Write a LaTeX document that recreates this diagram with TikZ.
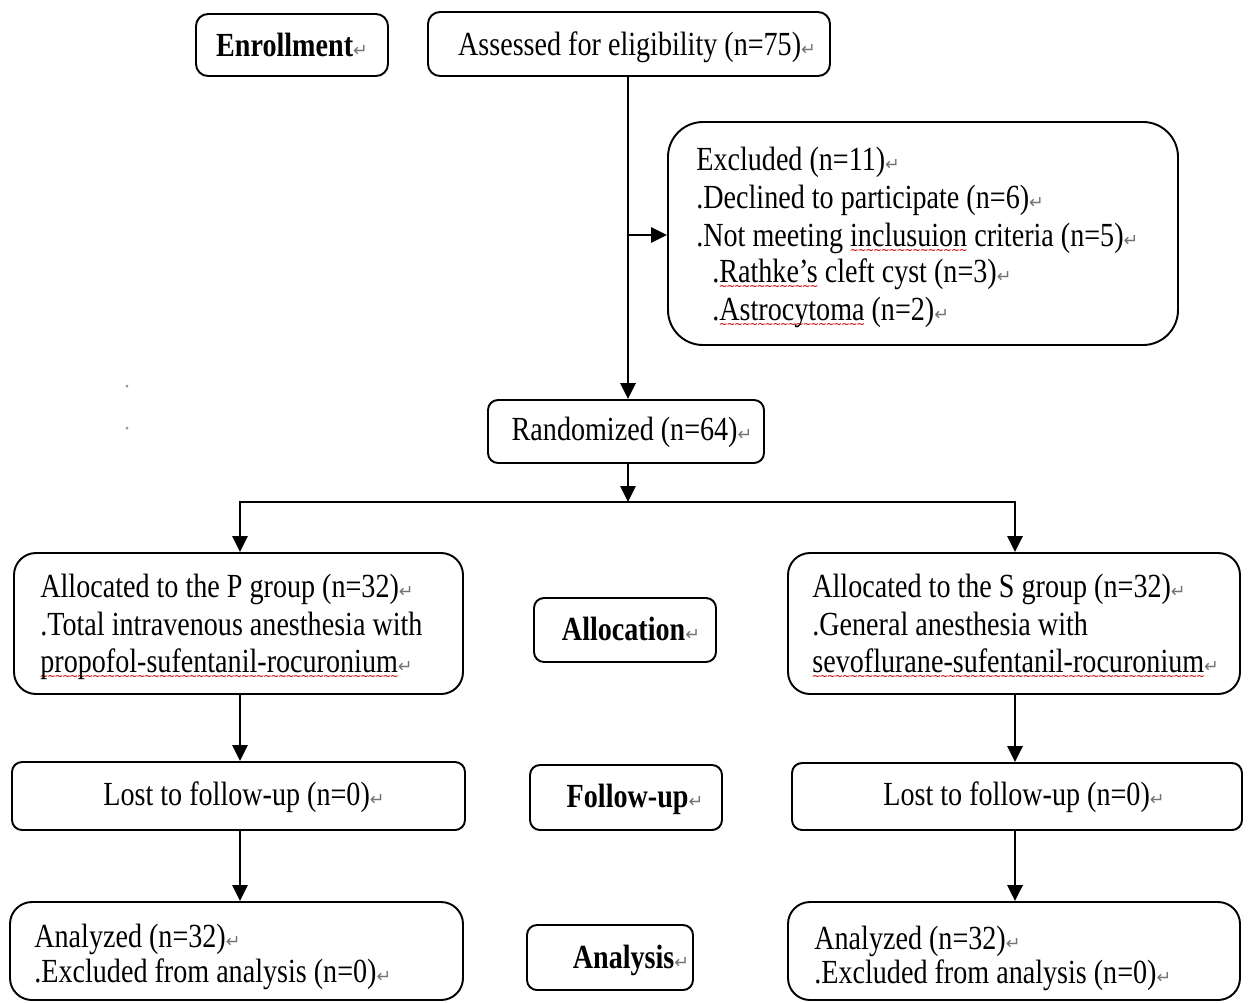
\documentclass[tikz,border=0pt]{standalone}
\usepackage{fontspec}
\setmainfont{Liberation Serif}
\newfontfamily\dvfont{DejaVu Sans}
\usetikzlibrary{arrows.meta,fit}
\newcommand\rt{{\dvfont\fontsize{10}{10}\selectfont\textcolor{black!55}{↵}}}
\newsavebox\sqbox
\newcommand\sq[1]{\sbox\sqbox{#1}\rlap{\color{red!80!black}\raisebox{-4pt}[0pt][0pt]{\hbox to \wd\sqbox{\xleaders\hbox{\dvfont\fontsize{6}{6}\selectfont\kern-0.4pt∼\kern-0.4pt}\hfil}}}\usebox\sqbox}
\newcommand\T[1]{\scalebox{1}[1.2]{#1}}
\tikzset{
  box/.style={draw, line width=1.1pt, inner sep=0pt},
  txt/.style={inner sep=0pt, anchor=base, font=\fontsize{16}{18}\selectfont},
  ltxt/.style={txt, anchor=base west},
  conn/.style={line width=1.6pt},
  arr/.style={line width=1.6pt, -{Triangle[length=9pt,width=8.5pt]}}
}
\begin{document}
\begin{tikzpicture}[x=0.02cm, y=-0.02cm]
\useasboundingbox (0,0) rectangle (1250,1002);
% boxes
\node[box, rounded corners=0.24cm, fit={(196,14)(388,76)}] (enroll) {};
\node[box, rounded corners=0.24cm, fit={(428,12)(830,76)}] (assess) {};
\node[box, rounded corners=0.7cm, fit={(668,122)(1178,345)}] (excl) {};
\node[box, rounded corners=0.2cm, fit={(488,400)(764,463)}] (rand) {};
\node[box, rounded corners=0.44cm, fit={(14,553)(463,694)}] (pbox) {};
\node[box, rounded corners=0.2cm, fit={(534,598)(716,662)}] (alloc) {};
\node[box, rounded corners=0.44cm, fit={(788,553)(1240,694)}] (sbox) {};
\node[box, rounded corners=0.2cm, fit={(12,762)(465,830)}] (lostL) {};
\node[box, rounded corners=0.2cm, fit={(530,765)(722,830)}] (fol) {};
\node[box, rounded corners=0.2cm, fit={(792,763)(1242,830)}] (lostR) {};
\node[box, rounded corners=0.44cm, fit={(10,902)(463,1000)}] (anaL) {};
\node[box, rounded corners=0.2cm, fit={(527,925)(693,990)}] (anas) {};
\node[box, rounded corners=0.44cm, fit={(788,902)(1240,1000)}] (anaR) {};
% texts
\node[txt] (tEnroll) at (292,56) {\T{\textbf{Enrollment}}\rt};
\node[txt] (tAssess) at (637,55) {\T{Assessed for eligibility (n=75)}\rt};
\node[ltxt] (tEx1) at (696,170) {\T{Excluded (n=11)}\rt};
\node[ltxt] (tEx2) at (696,208) {\T{.Declined to participate (n=6)}\rt};
\node[ltxt] (tEx3) at (696,246) {\T{.Not meeting \sq{inclusuion} criteria (n=5)}\rt};
\node[ltxt] (tEx4) at (712,282) {\T{.\sq{Rathke's} cleft cyst (n=3)}\rt};
\node[ltxt] (tEx5) at (712,320) {\T{.\sq{Astrocytoma} (n=2)}\rt};
\node[txt] (tRand) at (632,440) {\T{Randomized (n=64)}\rt};
\node[ltxt] (tP1) at (40,597) {\T{Allocated to the P group (n=32)}\rt};
\node[ltxt] (tP2) at (40,635) {\T{.Total intravenous anesthesia with}};
\node[ltxt] (tP3) at (40,672) {\T{\sq{propofol-sufentanil-rocuronium}}\rt};
\node[txt] (tAlloc) at (631,640) {\T{\textbf{Allocation}}\rt};
\node[ltxt] (tS1) at (812,597) {\T{Allocated to the S group (n=32)}\rt};
\node[ltxt] (tS2) at (812,635) {\T{.General anesthesia with}};
\node[ltxt] (tS3) at (812,672) {\T{\sq{sevoflurane-sufentanil-rocuronium}}\rt};
\node[txt] (tLostL) at (244,805) {\T{Lost to follow-up (n=0)}\rt};
\node[txt] (tFol) at (635,807) {\T{\textbf{Follow-up}}\rt};
\node[txt] (tLostR) at (1024,805) {\T{Lost to follow-up (n=0)}\rt};
\node[ltxt] (tAL1) at (34,947) {\T{Analyzed (n=32)}\rt};
\node[ltxt] (tAL2) at (34,982) {\T{.Excluded from analysis (n=0)}\rt};
\node[txt] (tAna) at (631,968) {\T{\textbf{Analysis}}\rt};
\node[ltxt] (tAR1) at (814,949) {\T{Analyzed (n=32)}\rt};
\node[ltxt] (tAR2) at (814,983) {\T{.Excluded from analysis (n=0)}\rt};
% connectors
\coordinate (top) at (628,76);
\coordinate (j1) at (628,235);
\coordinate (j2) at (628,502);
\coordinate (bl) at (240,502);
\coordinate (br) at (1015,502);
\draw[arr] (top) -- (top |- rand.north);
\draw[arr] (j1) -- (j1 -| excl.west);
\draw[arr] (top |- rand.south) -- (j2);
\draw[conn] ([xshift=-0.8pt]bl) -- ([xshift=0.8pt]br);
\draw[arr] (bl) -- (bl |- pbox.north);
\draw[arr] (br) -- (br |- sbox.north);
\draw[arr] (bl |- pbox.south) -- (bl |- lostL.north);
\draw[arr] (br |- sbox.south) -- (br |- lostR.north);
\draw[arr] (bl |- lostL.south) -- (bl |- anaL.north);
\draw[arr] (br |- lostR.south) -- (br |- anaR.north);
% stray marks
\fill[black!45] (127,386) circle (0.03cm);
\fill[black!45] (127,428) circle (0.03cm);
\end{tikzpicture}
\end{document}
